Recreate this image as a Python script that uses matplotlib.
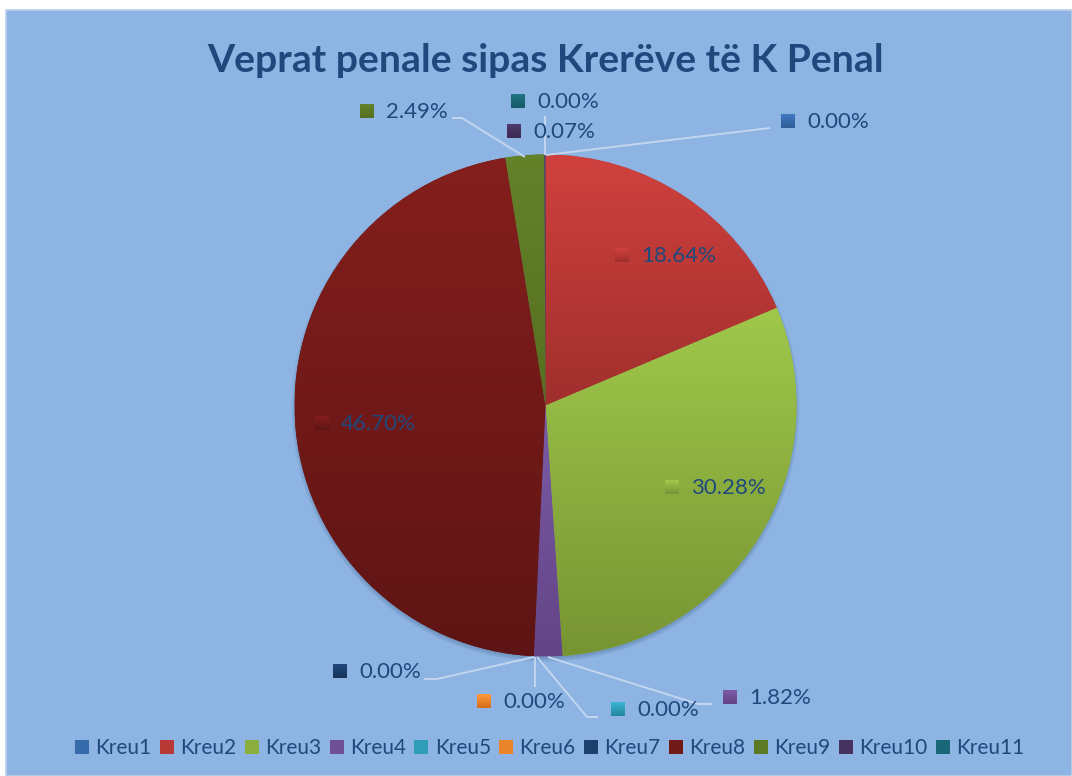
import matplotlib
matplotlib.use("Agg")
import matplotlib.pyplot as plt
import numpy as np
from matplotlib.patches import Rectangle, Circle
from matplotlib.lines import Line2D
from matplotlib.colors import to_rgb

# ---------------- data ----------------
categories = ["Kreu1", "Kreu2", "Kreu3", "Kreu4", "Kreu5", "Kreu6",
              "Kreu7", "Kreu8", "Kreu9", "Kreu10", "Kreu11"]
shares = [0.00, 18.64, 30.28, 1.82, 0.00, 0.00, 0.00, 46.70, 2.49, 0.07, 0.00]
title = "Veprat penale sipas Krerëve të K Penal"

# ---------------- style ----------------
grad_top = ["#4079C2", "#D0413E", "#A0C84B", "#7B5CA8", "#3BB5D4", "#FF9A3C",
            "#23497C", "#841F1D", "#64822A", "#50396B", "#1F7586"]
grad_bot = ["#2E5C94", "#A02F2D", "#779433", "#634485", "#23869E", "#D56D1A",
            "#17345B", "#5E1414", "#566F20", "#3B2A52", "#165A67"]
mid = [tuple((np.array(to_rgb(a)) + np.array(to_rgb(b))) / 2) for a, b in zip(grad_top, grad_bot)]

BG = "#8DB4E2"
TXT = "#1F497D"
LINE = "#C3D6EF"
FONT = "Lato"

W, H = 1072, 776
fig = plt.figure(figsize=(W / 100, H / 100), dpi=100, facecolor="white")
ax = fig.add_axes([0, 0, 1, 1])
ax.set_axis_off()

def Y(p):
    return H - p

def gradient(top, bot, n=128):
    c0, c1 = np.array(to_rgb(top)), np.array(to_rgb(bot))
    f = np.linspace(0, 1, n)[:, None]
    return (c0 * (1 - f) + c1 * f)[:, None, :]

# background panel
ax.add_patch(Rectangle((6, 0), W - 6, H - 10, facecolor=BG, edgecolor="#BBD0EC", lw=1.2, zorder=0))

cx, cy, R = 545.5, Y(405.5), 251

# soft shadow under the pie
for i in range(6):
    ax.add_patch(Circle((cx, cy - 2.5), R + 3 - i * 0.8, facecolor="#2F4F78",
                        edgecolor="none", alpha=0.05, zorder=1))

wedges, _ = ax.pie(shares, colors=mid, startangle=90, counterclock=False,
                   radius=R, center=(cx, cy), wedgeprops=dict(linewidth=0, zorder=2))

# vertical gradient per slice
for w, t, b in zip(wedges, grad_top, grad_bot):
    if abs(w.theta2 - w.theta1) < 1e-6:
        continue
    ext = w.get_path().get_extents()
    im = ax.imshow(gradient(t, b, 256), extent=(ext.x0, ext.x1, ext.y0, ext.y1), origin="upper",
                   aspect="auto", interpolation="bilinear", zorder=3)
    im.set_clip_path(w)

# title (fit width)
tt = ax.text(545.5, Y(72), title, ha="center", va="baseline", fontsize=30,
             fontweight="bold", color=TXT, family=FONT, zorder=5)
fig.canvas.draw()
r = fig.canvas.get_renderer()
wdt = tt.get_window_extent(r).width
tt.set_fontsize(30 * 677 / wdt)

# data labels: (marker left, digit top) in pixels
label_pos = [(781, 114), (615, 248), (665, 480), (723, 690), (611, 702), (477, 694),
             (333, 664), (315, 416), (360, 104), (507, 124), (511, 94)]
# leader lines in pixels
leaders = {
    0: [(546, 155), (770, 128)],
    10: [(545, 155), (545, 116)],
    8: [(525, 157), (462, 118), (452, 118)],
    6: [(534, 657), (437, 679), (424, 679)],
    5: [(535, 657), (535, 687)],
    4: [(537, 657), (587, 717), (598, 717)],
    3: [(548, 657), (698, 704), (712, 704)],
}
for i, pts in leaders.items():
    xs = [p[0] for p in pts]
    ys = [Y(p[1]) for p in pts]
    ax.plot(xs, ys, color=LINE, lw=1.4, zorder=4, solid_capstyle="butt")

for i, (mx, ty) in enumerate(label_pos):
    ax.imshow(gradient(grad_top[i], grad_bot[i], 32), extent=(mx, mx + 14, Y(ty + 14), Y(ty)),
              origin="upper", aspect="auto", interpolation="bilinear", zorder=6)
    ax.text(mx + 26, Y(ty + 14), f"{shares[i]:.2f}%", ha="left", va="baseline",
            fontsize=16, color=TXT, family=FONT, zorder=6)

ax.set_xlim(0, W)
ax.set_ylim(0, H)
ax.set_aspect("auto")

# legend
handles = [Line2D([], [], linestyle="none", marker="s", markersize=10, markeredgewidth=0,
                  markerfacecolor=mid[i], label=categories[i]) for i in range(len(categories))]
leg = fig.legend(handles=handles, loc="center", bbox_to_anchor=(549.5 / W, 1 - 748 / H),
                 ncol=len(categories), frameon=False, handlelength=0.68,
                 handletextpad=0.3, columnspacing=0.4, borderpad=0,
                 prop=dict(family=FONT, size=15))
for t in leg.get_texts():
    t.set_color(TXT)

fig.savefig("out.png", dpi=100, facecolor="white")
